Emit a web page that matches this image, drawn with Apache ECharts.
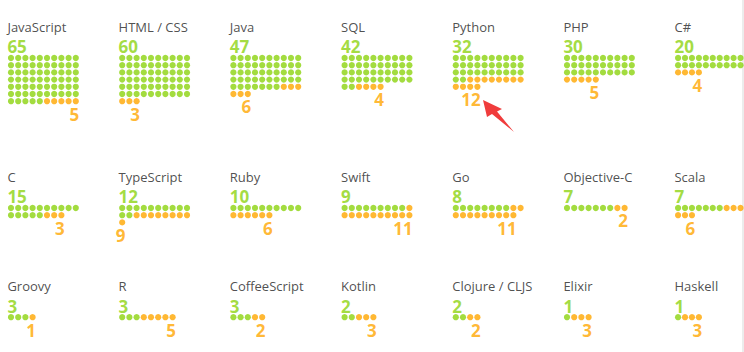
<!DOCTYPE html>
<html>
<head>
<meta charset="utf-8">
<script src="https://cdn.jsdelivr.net/npm/echarts@6/dist/echarts.min.js"></script>
<style>
  html, body { margin: 0; padding: 0; background: #fff; }
  #chart { width: 744px; height: 352px; }
</style>
</head>
<body>
<div id="chart"></div>
<script>
// languages, in reading order (7 per row)
let languages = [
    'JavaScript', 'HTML / CSS', 'Java', 'SQL', 'Python', 'PHP', 'C#',
    'C', 'TypeScript', 'Ruby', 'Swift', 'Go', 'Objective-C', 'Scala',
    'Groovy', 'R', 'CoffeeScript', 'Kotlin', 'Clojure / CLJS', 'Elixir', 'Haskell'
];
// green count
let greenCounts = [65, 60, 47, 42, 32, 30, 20, 15, 12, 10, 9, 8, 7, 7, 3, 3, 3, 2, 2, 1, 1];
// orange count
let orangeCounts = [5, 3, 6, 4, 12, 5, 4, 3, 9, 6, 11, 11, 2, 6, 1, 5, 2, 3, 2, 3, 3];

const GREEN = '#8cd30f';
const ORANGE = '#ffa600';
const PER_ROW = 10;
const PITCH = 7.2;
const colX = [11, 122.2, 233.4, 344.6, 455.8, 567, 678.2];
const rowY = [27, 177, 288];   // name line of each row

let chart = echarts.init(document.getElementById('chart'), null, { renderer: 'svg' });

let grids = [], xAxes = [], yAxes = [], series = [];

languages.forEach((name, i) => {
    let cx = colX[i % 7];
    let top = rowY[Math.floor(i / 7)] + 31;   // first row of dots
    grids.push({
        left: cx - PITCH / 2, top: top - PITCH / 2,
        width: PITCH * PER_ROW, height: PITCH * PER_ROW
    });
    xAxes.push({ gridIndex: i, type: 'value', min: -0.5, max: PER_ROW - 0.5, show: false });
    yAxes.push({ gridIndex: i, type: 'value', min: -0.5, max: PER_ROW - 0.5, inverse: true, show: false });

    let g = greenCounts[i], o = orangeCounts[i];
    let greenData = [], orangeData = [];
    for (let k = 0; k < g + o; k++) {
        let pt = [k % PER_ROW, Math.floor(k / PER_ROW)];
        if (k < g) greenData.push(pt); else orangeData.push(pt);
    }

    // name + green number hang above the first dot
    greenData[0] = {
        value: greenData[0],
        label: {
            show: true,
            position: [-0.5, 2],
            align: 'left',
            verticalAlign: 'bottom',
            formatter: '{n|' + name + '}\n{g|' + g + '}',
            rich: {
                n: { fontFamily: 'Open Sans', fontSize: 13, color: '#222', lineHeight: 20 },
                g: { fontFamily: 'Open Sans', fontSize: 17, fontWeight: 'bold', color: GREEN, lineHeight: 20 }
            }
        }
    };
    // orange number under the last dot
    let last = orangeData.length - 1;
    orangeData[last] = {
        value: orangeData[last],
        label: {
            show: true,
            position: [6.5, 16],
            align: 'right',
            verticalAlign: 'middle',
            formatter: String(o),
            fontFamily: 'Open Sans',
            fontSize: 17,
            fontWeight: 'bold',
            color: ORANGE
        }
    };

    series.push({
        type: 'scatter', xAxisIndex: i, yAxisIndex: i,
        symbolSize: 6.2, silent: true,
        itemStyle: { color: GREEN },
        data: greenData
    });
    series.push({
        type: 'scatter', xAxisIndex: i, yAxisIndex: i,
        symbolSize: 6.2, silent: true,
        itemStyle: { color: ORANGE },
        data: orangeData
    });
});

chart.setOption({
    animation: false,
    backgroundColor: '#fff',
    grid: grids,
    xAxis: xAxes,
    yAxis: yAxes,
    series: series,
    graphic: [
        {
            type: 'polygon',
            shape: { points: [[483, 100], [502, 109], [497, 111.5], [514, 132], [492, 114], [487, 117]] },
            style: { fill: '#f03c3c' },
            z: 100
        },
        {
            type: 'rect',
            shape: { x: 742, y: 0, width: 2, height: 352 },
            style: { fill: '#ececec' }
        }
    ]
});
</script>
</body>
</html>
